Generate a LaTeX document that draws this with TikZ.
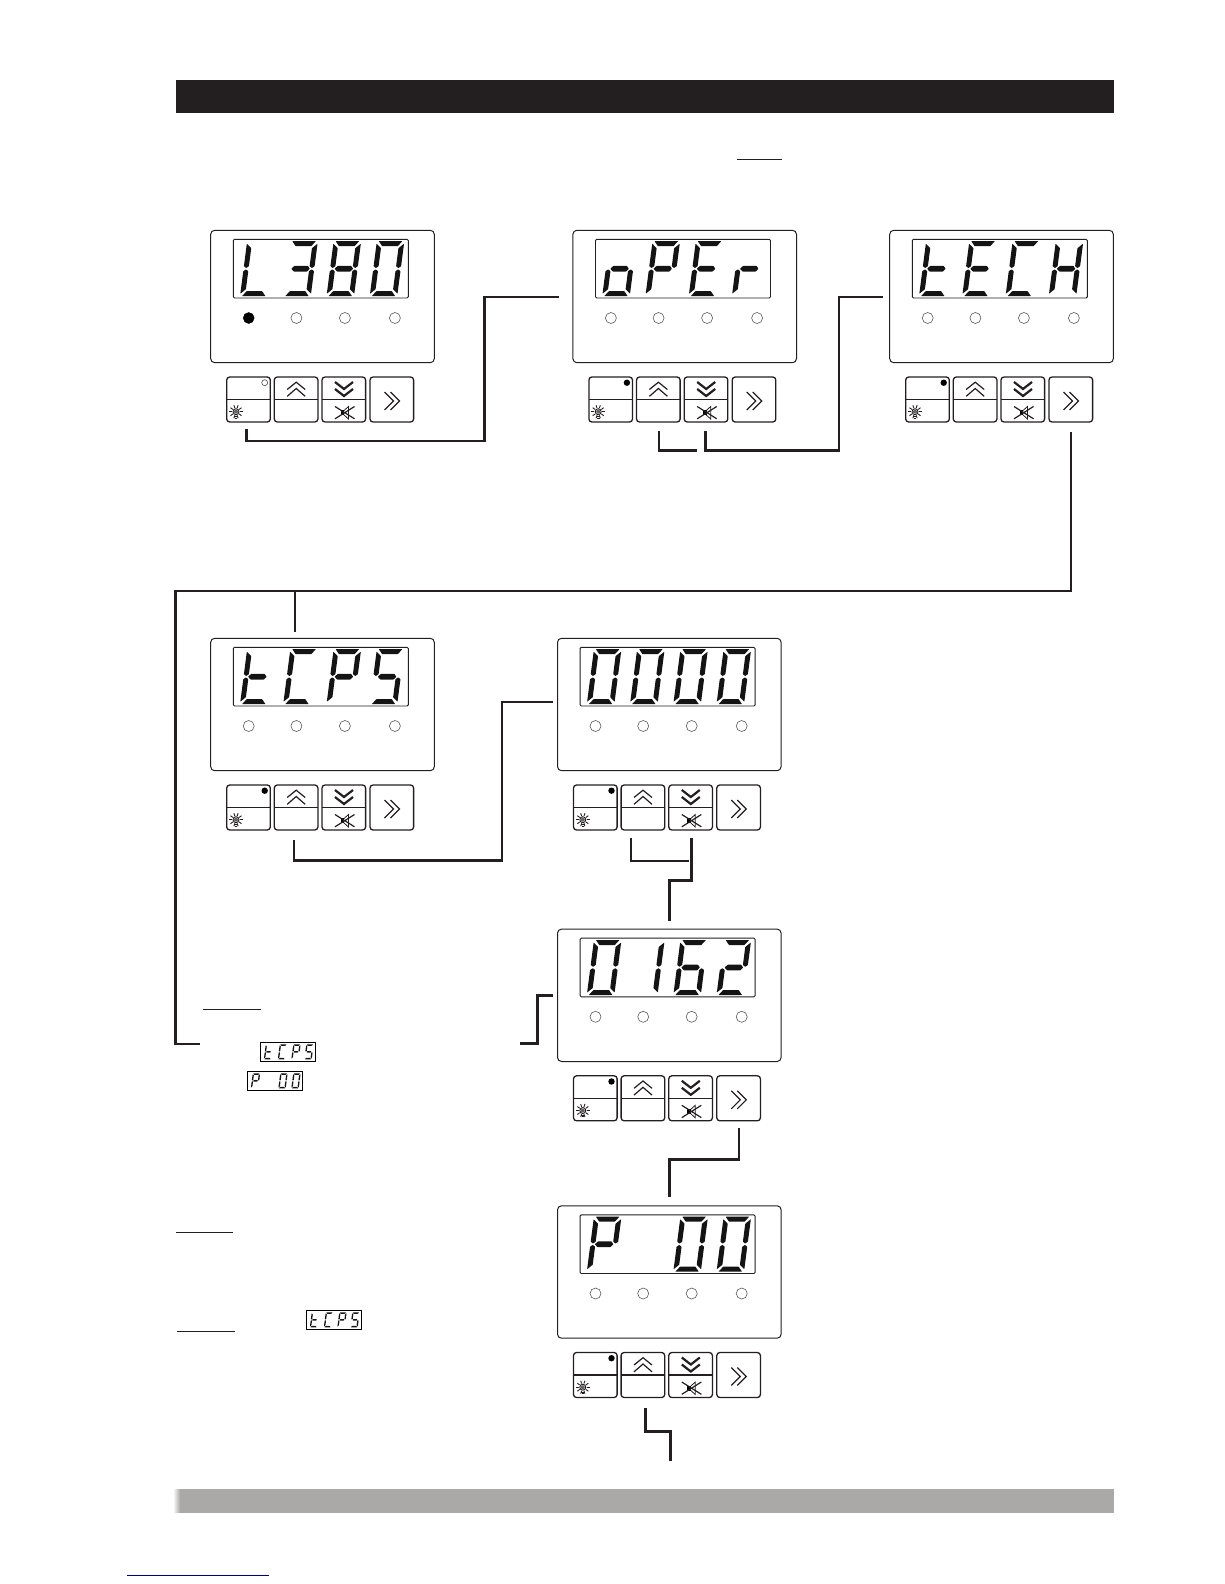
\documentclass[tikz,border=0pt]{standalone}
\definecolor{barblack}{HTML}{231F20}
\definecolor{bargray}{HTML}{ABA9A7}
\definecolor{linknavy}{HTML}{00007F}
\tikzset{
  panelbox/.style={draw=barblack,line width=1pt,rounded corners=4pt,minimum width=223.6pt,minimum height=132.4pt,inner sep=0pt,outer sep=0pt,anchor=north west},
  dispbox/.style={draw=barblack,line width=.9pt,rounded corners=1.2pt,minimum width=175pt,minimum height=58.7pt,inner sep=0pt,outer sep=0pt,anchor=north west},
  minibox/.style={draw=black,line width=1pt,minimum width=55.5pt,minimum height=19pt,inner sep=0pt,outer sep=0pt,anchor=north west},
  btnbox/.style={draw=barblack,line width=1.3pt,rounded corners=3pt,minimum width=43.6pt,minimum height=45pt,inner sep=0pt,outer sep=0pt,anchor=north west},
  ledoff/.style={draw=black!65,line width=.6pt,circle,minimum size=11pt,inner sep=0pt,anchor=center},
  ledon/.style={draw=black,fill=black,circle,minimum size=11pt,inner sep=0pt,anchor=center},
  conn/.style={draw=barblack,line width=2.6pt,line join=miter,line cap=butt},
  thinconn/.style={draw=barblack,line width=2pt,line join=miter,line cap=butt},
  thinrule/.style={draw=barblack,line width=1pt},
  segfill/.style={fill=black!92,rounded corners=.4pt}
}
\newcommand\sga{\fill[segfill] (2,-55) -- (25.5,-55) -- (21.5,-50) -- (6,-50) -- cycle;}
\newcommand\sgd{\fill[segfill] (2,0) -- (25.5,0) -- (21.5,-5) -- (6,-5) -- cycle;}
\newcommand\sgg{\fill[segfill] (4.5,-27.5) -- (7.3,-24.7) -- (20.7,-24.7) -- (23,-27.5) -- (20.7,-30.3) -- (7.3,-30.3) -- cycle;}
\newcommand\sgb{\fill[segfill] (27.5,-30) -- (25,-28.2) -- (22.5,-30) -- (22.5,-48) -- (27.5,-52.5) -- cycle;}
\newcommand\sgf{\fill[segfill] (0,-30) -- (2.5,-28.2) -- (5,-30) -- (5,-48) -- (0,-52.5) -- cycle;}
\newcommand\sge{\fill[segfill] (0,-25) -- (2.5,-26.8) -- (5,-25) -- (5,-7) -- (0,-2.5) -- cycle;}
\newcommand\sgc{\fill[segfill] (27.5,-25) -- (25,-26.8) -- (22.5,-25) -- (22.5,-7) -- (27.5,-2.5) -- cycle;}
% digit: x y scale seglist
\newcommand\sdigit[4]{\begin{scope}[shift={(#1,#2)},scale=#3,cm={1,0,.13,1,(0,0)}]\foreach \s in {#4}{\csname sg\s\endcsname}\end{scope}}
\newcommand\upchev{\draw[barblack,line width=1.2pt] (12.9,12.5) -- (21.9,5.2) -- (30.9,12.5) (12.9,19.3) -- (21.9,11.5) -- (30.9,19.3);}
\newcommand\dnchev{\draw[barblack,line width=2.2pt] (13,5) -- (22,12) -- (31,5) (13,12) -- (22,19) -- (31,12);}
\newcommand\rtchev{\draw[barblack,line width=1.2pt] (14.5,15) -- (23.5,24) -- (14.5,33) (20.5,15) -- (29.5,24) -- (20.5,33);}
\newcommand\muteicon{\fill[black] (18.5,33.3) rectangle (22.3,38);
 \draw[barblack,line width=.8pt] (22,33.5) -- (26.5,29.5) -- (26.5,42) -- (22,38);
 \draw[barblack,line width=1.2pt] (13,29.5) -- (32.5,41.8) (13,41.8) -- (32.5,29.5);}
\newcommand\sunicon{\fill[barblack!70] (9.3,34.7) circle (2);
 \draw[barblack,line width=.9pt] (9.3,34.7) circle (3);
 \foreach \a in {0,36,...,324}{\draw[barblack,line width=.9pt] (9.3,34.7) ++(\a:3.8) -- ++(\a:3);}
 \draw[barblack,line width=1pt] (7.8,39.5) -- (10.8,39.5) (8,41) -- (10.6,41);}
% name x y d1 d2 d3 d4 firstledon
\newcommand\dpanel[8]{%
 \begin{scope}[shift={(#2,#3)}]
 \node[panelbox] (#1) at (0,0) {};
 \node[dispbox] (#1d) at (22.6,9) {};
 \sdigit{29.3}{65.9}{1}{#4}\sdigit{72.5}{65.9}{1}{#5}\sdigit{115.8}{65.9}{1}{#6}\sdigit{159}{65.9}{1}{#7}
 \ifnum#8=1 \node[ledon] (#1la) at (38,87.7) {}; \else \node[ledoff] (#1la) at (38,87.7) {}; \fi
 \node[ledoff] (#1lb) at (85.7,87.7) {};
 \node[ledoff] (#1lc) at (134.2,87.7) {};
 \node[ledoff] (#1ld) at (184.2,87.7) {};
 \node[btnbox] (#1ba) at (16,146.7) {};
 \node[btnbox] (#1bb) at (63.6,146.7) {};
 \node[btnbox] (#1bc) at (111.3,146.7) {};
 \node[btnbox] (#1bd) at (159.3,146.7) {};
 \draw[barblack,line width=1.2pt] (#1ba.west) -- (#1ba.east) (#1bb.west) -- (#1bb.east) (#1bc.west) -- (#1bc.east);
 \begin{scope}[shift={(16,146.7)}]
  \ifnum#8=1 \draw[black!70,line width=.6pt] (38,5.7) circle (3); \else \fill[black] (38,5.7) circle (3.2); \fi
  \sunicon
 \end{scope}
 \begin{scope}[shift={(63.6,146.7)}]\upchev\end{scope}
 \begin{scope}[shift={(111.3,146.7)}]\dnchev\muteicon\end{scope}
 \begin{scope}[shift={(159.3,146.7)}]\rtchev\end{scope}
 \end{scope}}
\newcommand\minidisp[7]{%
 \node[minibox] (#1) at (#2,#3) {};
 \sdigit{#2+3.5}{#3+17}{.27}{#4}\sdigit{#2+17.5}{#3+17}{.27}{#5}\sdigit{#2+31}{#3+17}{.27}{#6}\sdigit{#2+44}{#3+17}{.27}{#7}}
\begin{document}
\begin{tikzpicture}[x=1pt,y=-1pt]
\useasboundingbox (0,0) rectangle (1224,1584);
% bars
\fill[barblack] (175.7,80) rectangle (1114,112.7);
\shade[left color=white,right color=bargray] (173,1489) rectangle (180,1512.7);
\fill[bargray] (180,1489) rectangle (1114,1512.7);
\draw[linknavy,line width=1pt] (127,1575.3) -- (269,1575.3);
% rules
\draw[thinrule] (737.3,159.3) -- (782,159.3);
\draw[thinrule] (203.3,1009.3) -- (260.7,1009.3);
\draw[thinrule] (176,1232.3) -- (232.7,1232.3);
\draw[thinrule] (177,1331.3) -- (235,1331.3);
% panels
\dpanel{pa}{210.7}{230.3}{d,e,f}{a,b,c,d,g}{a,b,c,d,e,f,g}{a,b,c,d,e,f}{1}
\dpanel{pb}{572.9}{230.3}{c,d,e,g}{a,b,e,f,g}{a,d,e,f,g}{e,g}{0}
\dpanel{pc}{889.7}{230.3}{d,e,f,g}{a,d,e,f,g}{a,d,e,f}{b,c,e,f,g}{0}
\dpanel{pd}{210.7}{638.3}{d,e,f,g}{a,d,e,f}{a,b,e,f,g}{a,c,d,f,g}{0}
\dpanel{pe}{557.5}{638.3}{a,b,c,d,e,f}{a,b,c,d,e,f}{a,b,c,d,e,f}{a,b,c,d,e,f}{0}
\dpanel{pf}{557.5}{929.1}{a,b,c,d,e,f}{b,c}{a,c,d,e,f,g}{a,b,d,e,g}{0}
\dpanel{pg}{557.5}{1205.8}{a,b,e,f,g}{}{a,b,c,d,e,f}{a,b,c,d,e,f}{0}
% mini displays
\minidisp{ma}{260.3}{1042.3}{d,e,f,g}{a,d,e,f}{a,b,e,f,g}{a,c,d,f,g}
\minidisp{mb}{247.3}{1071.3}{a,b,e,f,g}{}{a,b,c,d,e,f}{a,b,c,d,e,f}
\minidisp{mc}{306.3}{1310.3}{d,e,f,g}{a,d,e,f}{a,b,e,f,g}{a,c,d,f,g}
% connector bends and free ends
\coordinate (ka) at (484.3,441);
\coordinate (kb) at (696.7,450.7);
\coordinate (kc) at (838.8,450.7);
\coordinate (kd) at (1070.5,590.8);
\coordinate (ke) at (175.7,590.8);
\coordinate (kf) at (200,1044);
\coordinate (kg) at (502,860.4);
\coordinate (kh) at (689.3,860.7);
\coordinate (ki) at (669.3,880.7);
\coordinate (kj) at (520,1043.7);
\coordinate (kl) at (669.6,1159.4);
\coordinate (km) at (670.7,1431.7);
\coordinate (kn) at (670.7,1461);
\coordinate (kp) at (294.9,590.8);
% connectors
\draw[conn] ([xshift=-1.8pt,yshift=-7.3pt]paba.south) |- (ka) |- ([xshift=-14.4pt,yshift=-.5pt]pb.west);
\draw[conn] ([xshift=.7pt,yshift=-9.3pt]pbbb.south) |- (kb);
\draw[conn] ([xshift=-.6pt,yshift=-9.3pt]pbbc.south) |- (kc) |- ([xshift=-7pt,yshift=-.5pt]pc.west);
\draw[conn] ([yshift=-10pt]pcbd.south) |- (kd) -- (ke) |- (kf);
\draw[conn] (kp) -- ([yshift=6.3pt]kp |- pd.north);
\draw[conn] ([xshift=-2.2pt,yshift=-10pt]pdbb.south) |- (kg) |- ([xshift=-5pt,yshift=2.5pt]pe.west);
\draw[thinconn] ([xshift=-11.9pt,yshift=-8.3pt]pebb.south) |- (kh);
\draw[conn] ([xshift=.7pt,yshift=-8.3pt]pebc.south) |- (ki) -- ([yshift=8.4pt]ki |- pf.north);
\draw[conn] (kj) -| ([xshift=-19.8pt]pf.west) -- ([xshift=-4.5pt]pf.west);
\draw[conn] ([xshift=.2pt,yshift=-7.2pt]pfbd.south) |- (kl) -- ([yshift=9.1pt]kl |- pg.north);
\draw[conn] ([xshift=2.4pt,yshift=-10.8pt]pgbb.south) |- (km) -- (kn);
\end{tikzpicture}
\end{document}
